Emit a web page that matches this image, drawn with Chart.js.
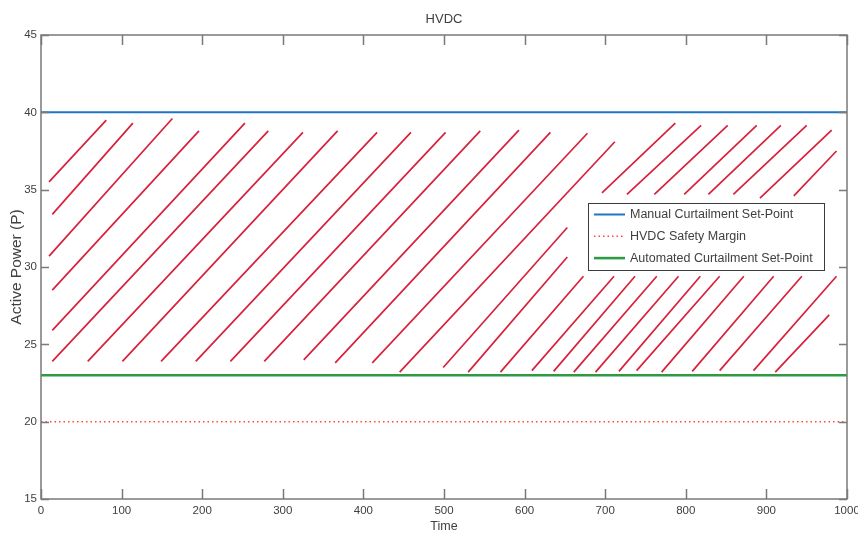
<!DOCTYPE html>
<html>
<head>
<meta charset="utf-8">
<title>HVDC</title>
<script src="https://cdn.jsdelivr.net/npm/chart.js@4.4.1/dist/chart.umd.min.js"></script>
<style>
  html, body { margin: 0; padding: 0; background: #ffffff; }
  #wrap { width: 858px; height: 536px; }
</style>
</head>
<body>
<div id="wrap"><canvas id="hvdc" width="858" height="536"></canvas></div>
<script>
// Time span covered by the horizontal set-point lines
const timeRange = [0, 1000];

// Horizontal reference levels (active power)
const manualSetPoint = [40, 40];
const safetyMargin = [20, 20];
const automatedSetPoint = [23, 23];

// Hatched curtailment band: each stroke runs from (start time, start power) to (end time, end power)
const hatchStartTime  = [10, 14, 10, 14, 14, 14, 58, 101, 149, 192, 235, 277, 326, 365, 411, 445,
                         499, 530, 570, 609, 636, 661, 688, 717, 739, 770, 808, 842, 884, 911,
                         696, 727, 761, 798, 828, 859, 892, 934];
const hatchStartPower = [35.5, 33.4, 30.7, 28.5, 25.9, 23.9, 23.9, 23.9, 23.9, 23.9, 23.9, 23.9, 24.0, 23.8, 23.8, 23.2,
                         23.5, 23.2, 23.2, 23.3, 23.25, 23.2, 23.2, 23.25, 23.3, 23.2, 23.25, 23.3, 23.3, 23.2,
                         34.8, 34.7, 34.7, 34.7, 34.7, 34.7, 34.45, 34.6];
const hatchEndTime    = [81, 114, 163, 196, 253, 282, 325, 368, 417, 459, 502, 545, 593, 632, 678, 712,
                         653, 653, 673, 711, 737, 764, 791, 818, 842, 872, 909, 944, 987, 978,
                         787, 819, 852, 888, 918, 950, 981, 987];
const hatchEndPower   = [39.5, 39.3, 39.6, 38.8, 39.3, 38.8, 38.7, 38.8, 38.7, 38.7, 38.7, 38.8, 38.85, 38.7, 38.65, 38.1,
                         32.55, 30.65, 29.4, 29.4, 29.4, 29.4, 29.4, 29.4, 29.4, 29.4, 29.4, 29.4, 29.4, 26.9,
                         39.3, 39.15, 39.15, 39.15, 39.15, 39.15, 38.85, 37.5];

// Axis ticks
const timeTicks = [0, 100, 200, 300, 400, 500, 600, 700, 800, 900, 1000];
const powerTicks = [15, 20, 25, 30, 35, 40, 45];

const FONT = "'Liberation Sans', Arial, sans-serif";
const TEXT = '#404040';
const FRAME = '#7a7a7a';

// One polyline with gaps between consecutive hatch strokes
const hatchPoints = [];
hatchStartTime.forEach((t, i) => {
  hatchPoints.push({ x: t, y: hatchStartPower[i] });
  hatchPoints.push({ x: hatchEndTime[i], y: hatchEndPower[i] });
  hatchPoints.push({ x: hatchEndTime[i], y: null });
});

const level = (values) => timeRange.map((t, i) => ({ x: t, y: values[i] }));

// Box frame with inward tick marks on all four sides
const axisFrame = {
  id: 'axisFrame',
  afterDatasetsDraw(chart) {
    const { ctx, chartArea: a, scales: { x, y } } = chart;
    ctx.save();
    ctx.strokeStyle = FRAME;
    ctx.lineWidth = 1.5;
    ctx.strokeRect(a.left, a.top, a.right - a.left, a.bottom - a.top);
    ctx.beginPath();
    timeTicks.forEach(v => {
      const px = Math.round(x.getPixelForValue(v)) + 0.5;
      ctx.moveTo(px, a.bottom); ctx.lineTo(px, a.bottom - 10);
      ctx.moveTo(px, a.top);    ctx.lineTo(px, a.top + 10);
    });
    powerTicks.forEach(v => {
      const py = Math.round(y.getPixelForValue(v)) + 0.5;
      ctx.moveTo(a.left, py);  ctx.lineTo(a.left + 8, py);
      ctx.moveTo(a.right, py); ctx.lineTo(a.right - 8, py);
    });
    ctx.stroke();
    ctx.restore();
  }
};

// Boxed legend sitting inside the plot, right of centre
const insetLegend = {
  id: 'insetLegend',
  afterDraw(chart) {
    const { ctx, chartArea: a } = chart;
    const items = chart.data.datasets.filter(d => d.inLegend);
    const box = { x: a.right - 259, y: a.top + 168, w: 236, h: 67 };
    ctx.save();
    ctx.fillStyle = '#ffffff';
    ctx.fillRect(box.x, box.y, box.w, box.h);
    ctx.strokeStyle = '#3a3a3a';
    ctx.lineWidth = 1;
    ctx.strokeRect(Math.round(box.x) + 0.5, Math.round(box.y) + 0.5, box.w, box.h);
    ctx.font = '12.5px ' + FONT;
    ctx.textBaseline = 'middle';
    ctx.textAlign = 'left';
    items.forEach((d, i) => {
      const cy = box.y + 11.5 + i * 21.8;
      ctx.beginPath();
      ctx.strokeStyle = d.borderColor;
      ctx.lineWidth = d.borderWidth;
      ctx.setLineDash(d.borderDash || []);
      ctx.moveTo(box.x + 6, cy);
      ctx.lineTo(box.x + 37, cy);
      ctx.stroke();
      ctx.setLineDash([]);
      ctx.fillStyle = TEXT;
      ctx.fillText(d.label, box.x + 42, cy + 0.5);
    });
    ctx.restore();
  }
};

new Chart(document.getElementById('hvdc'), {
  type: 'line',
  data: {
    datasets: [
      {
        label: 'Curtailment band',
        data: hatchPoints,
        borderColor: '#d8213a',
        borderWidth: 1.7,
        pointRadius: 0,
        spanGaps: false,
        inLegend: false
      },
      {
        label: 'Manual Curtailment Set-Point',
        data: level(manualSetPoint),
        borderColor: '#1f74c4',
        borderWidth: 2,
        pointRadius: 0,
        inLegend: true
      },
      {
        label: 'HVDC Safety Margin',
        data: level(safetyMargin),
        borderColor: '#ff4646',
        borderWidth: 1.5,
        borderDash: [1.5, 3],
        pointRadius: 0,
        inLegend: true
      },
      {
        label: 'Automated Curtailment Set-Point',
        data: level(automatedSetPoint),
        borderColor: '#2f9a45',
        borderWidth: 2.6,
        pointRadius: 0,
        inLegend: true
      }
    ]
  },
  options: {
    responsive: false,
    devicePixelRatio: 1,
    animation: false,
    layout: { padding: { left: 0, right: 11, top: 0, bottom: 0 } },
    plugins: {
      legend: { display: false },
      tooltip: { enabled: false },
      title: {
        display: true,
        fullSize: false,
        text: 'HVDC',
        color: TEXT,
        font: { family: FONT, size: 13, weight: 'normal', lineHeight: 1.2 },
        padding: { top: 11.5, bottom: 7.9 }
      }
    },
    scales: {
      x: {
        type: 'linear',
        min: 0,
        max: 1000,
        afterBuildTicks: (s) => { s.ticks = timeTicks.map(v => ({ value: v })); },
        afterFit: (s) => { s.height = 37; s.paddingLeft = 0; s.paddingRight = 0; },
        grid: { display: false, drawTicks: false },
        border: { display: false },
        ticks: {
          color: TEXT, padding: 5, maxRotation: 0, autoSkip: false,
          font: { family: FONT, size: 11.5 },
          callback: (v) => String(v)
        },
        title: {
          display: true, text: 'Time', color: TEXT,
          font: { family: FONT, size: 12.5, lineHeight: 1.2 },
          padding: { top: 0, bottom: 1.5 }
        }
      },
      y: {
        type: 'linear',
        min: 15,
        max: 45,
        afterBuildTicks: (s) => { s.ticks = powerTicks.map(v => ({ value: v })); },
        afterFit: (s) => { s.width = 41; s.paddingTop = 0; s.paddingBottom = 0; },
        grid: { display: false, drawTicks: false },
        border: { display: false },
        ticks: {
          color: TEXT, padding: 4, autoSkip: false,
          font: { family: FONT, size: 11.5 },
          callback: (v) => String(v)
        },
        title: {
          display: true, text: 'Active Power (P)', color: TEXT,
          font: { family: FONT, size: 15.5, lineHeight: 1.2 },
          padding: { top: 7, bottom: 0 }
        }
      }
    }
  },
  plugins: [axisFrame, insetLegend]
});
</script>
</body>
</html>
